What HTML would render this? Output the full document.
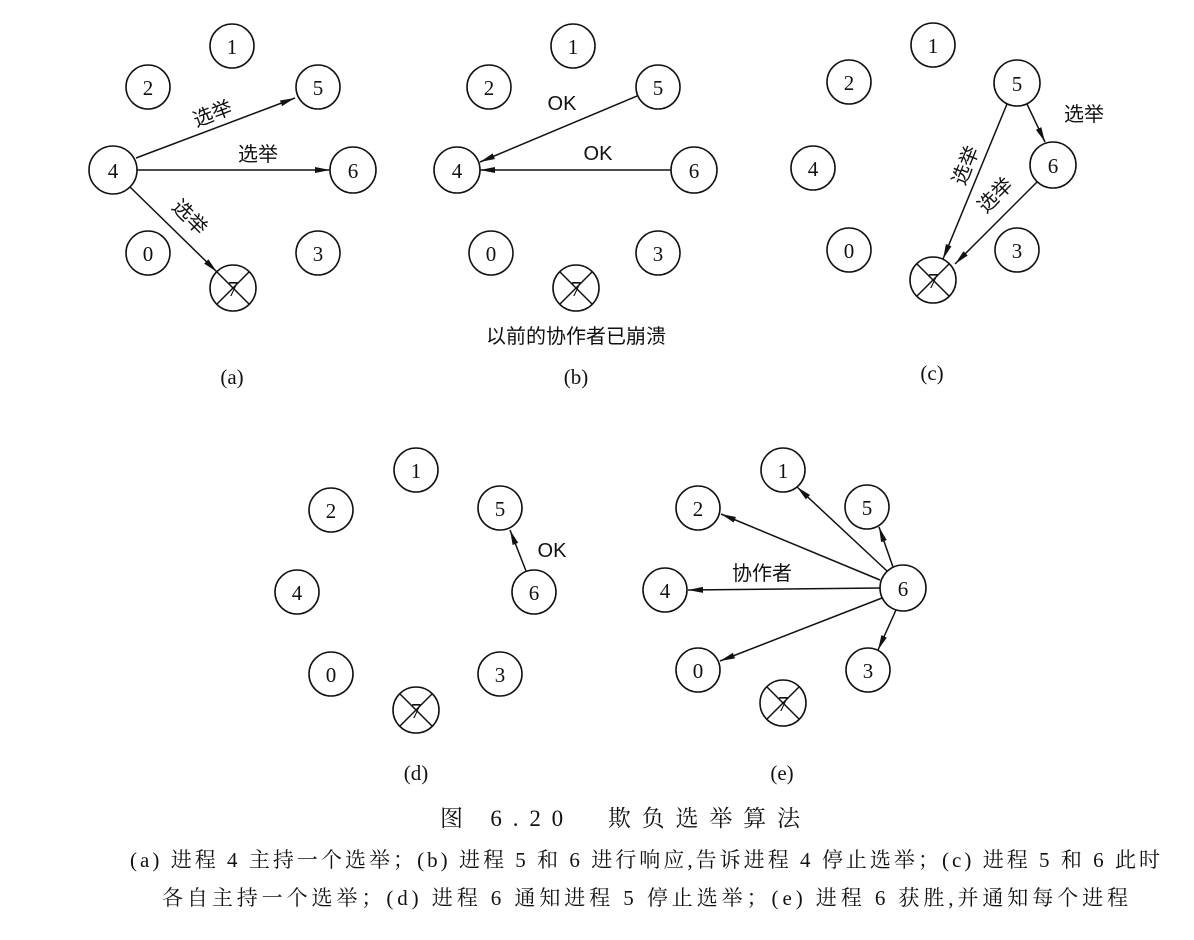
<!DOCTYPE html>
<html><head><meta charset="utf-8"><style>
body{margin:0;background:#fff;}
svg{display:block;font-family:"Liberation Serif","Noto Serif CJK SC",serif;}
.n circle{fill:none;stroke:#111;stroke-width:1.6}
.n text,.t{font-size:21px;fill:#111;text-anchor:middle;}
.cj{font-family:"Liberation Sans","Noto Sans CJK SC",sans-serif;font-size:20px;fill:#111;text-anchor:middle}
.cap{font-family:"Liberation Serif","Noto Serif CJK SC",serif;font-size:21px;fill:#111}
line{stroke:#111;stroke-width:1.5}
</style></head><body>
<svg width="1194" height="940" viewBox="0 0 1194 940" xmlns="http://www.w3.org/2000/svg">
<defs><marker id="ar" viewBox="0 0 15 7" refX="15" refY="3.5" markerWidth="15" markerHeight="7" markerUnits="userSpaceOnUse" orient="auto"><path d="M0,0.5 L15,3.5 L0,6.5 z" fill="#111"/></marker></defs>

<!-- panel a -->
<g class="n">
<circle cx="232" cy="46" r="22"/><text x="232" y="54">1</text>
<circle cx="148" cy="87" r="22"/><text x="148" y="95">2</text>
<circle cx="318" cy="87" r="22"/><text x="318" y="95">5</text>
<circle cx="113" cy="170" r="24"/><text x="113" y="178">4</text>
<circle cx="353" cy="170" r="23"/><text x="353" y="178">6</text>
<circle cx="148" cy="253" r="22"/><text x="148" y="261">0</text>
<circle cx="318" cy="253" r="22"/><text x="318" y="261">3</text>
<circle cx="233" cy="288" r="23"/><text x="233" y="296">7</text>
<line x1="217" y1="272" x2="249" y2="304"/><line x1="249" y1="272" x2="217" y2="304"/>
</g>
<line x1="136" y1="158" x2="295" y2="98" marker-end="url(#ar)"/>
<line x1="137" y1="170" x2="330" y2="170" marker-end="url(#ar)"/>
<line x1="130" y1="187" x2="217" y2="272" marker-end="url(#ar)"/>
<text class="cj" transform="translate(215,120) rotate(-21)">选举</text>
<text class="cj" x="258" y="161">选举</text>
<text class="cj" transform="translate(185,222) rotate(45)">选举</text>
<text class="t" x="232" y="384">(a)</text>

<!-- panel b -->
<g class="n">
<circle cx="573" cy="46" r="22"/><text x="573" y="54">1</text>
<circle cx="489" cy="87" r="22"/><text x="489" y="95">2</text>
<circle cx="658" cy="87" r="22"/><text x="658" y="95">5</text>
<circle cx="457" cy="170" r="23"/><text x="457" y="178">4</text>
<circle cx="694" cy="170" r="23"/><text x="694" y="178">6</text>
<circle cx="491" cy="253" r="22"/><text x="491" y="261">0</text>
<circle cx="658" cy="253" r="22"/><text x="658" y="261">3</text>
<circle cx="576" cy="288" r="23"/><text x="576" y="296">7</text>
<line x1="560" y1="272" x2="592" y2="304"/><line x1="592" y1="272" x2="560" y2="304"/>
</g>
<line x1="637" y1="96" x2="480" y2="162" marker-end="url(#ar)"/>
<line x1="671" y1="170" x2="480" y2="170" marker-end="url(#ar)"/>
<text class="cj" x="562" y="110">OK</text>
<text class="cj" x="598" y="160">OK</text>
<text class="cj" x="576" y="343">以前的协作者已崩溃</text>
<text class="t" x="576" y="384">(b)</text>

<!-- panel c -->
<g class="n">
<circle cx="933" cy="45" r="22"/><text x="933" y="53">1</text>
<circle cx="849" cy="82" r="22"/><text x="849" y="90">2</text>
<circle cx="1017" cy="83" r="23"/><text x="1017" y="91">5</text>
<circle cx="813" cy="168" r="22"/><text x="813" y="176">4</text>
<circle cx="1053" cy="165" r="23"/><text x="1053" y="173">6</text>
<circle cx="849" cy="250" r="22"/><text x="849" y="258">0</text>
<circle cx="1017" cy="250" r="22"/><text x="1017" y="258">3</text>
<circle cx="933" cy="280" r="23"/><text x="933" y="288">7</text>
<line x1="917" y1="264" x2="949" y2="296"/><line x1="949" y1="264" x2="917" y2="296"/>
</g>
<line x1="1007" y1="104" x2="943" y2="259" marker-end="url(#ar)"/>
<line x1="1027" y1="104" x2="1045" y2="142" marker-end="url(#ar)"/>
<line x1="1037" y1="182" x2="955" y2="264" marker-end="url(#ar)"/>
<text class="cj" transform="translate(972,168) rotate(-68)">选举</text>
<text class="cj" x="1084" y="121">选举</text>
<text class="cj" transform="translate(1000,200) rotate(-45)">选举</text>
<text class="t" x="932" y="380">(c)</text>

<!-- panel d -->
<g class="n">
<circle cx="416" cy="470" r="22"/><text x="416" y="478">1</text>
<circle cx="331" cy="510" r="22"/><text x="331" y="518">2</text>
<circle cx="500" cy="508" r="22"/><text x="500" y="516">5</text>
<circle cx="297" cy="592" r="22"/><text x="297" y="600">4</text>
<circle cx="534" cy="592" r="22"/><text x="534" y="600">6</text>
<circle cx="331" cy="674" r="22"/><text x="331" y="682">0</text>
<circle cx="500" cy="674" r="22"/><text x="500" y="682">3</text>
<circle cx="416" cy="710" r="23"/><text x="416" y="718">7</text>
<line x1="400" y1="694" x2="432" y2="726"/><line x1="432" y1="694" x2="400" y2="726"/>
</g>
<line x1="526" y1="571" x2="510" y2="530" marker-end="url(#ar)"/>
<text class="cj" x="552" y="557">OK</text>
<text class="t" x="416" y="780">(d)</text>

<!-- panel e -->
<g class="n">
<circle cx="783" cy="470" r="22"/><text x="783" y="478">1</text>
<circle cx="698" cy="508" r="22"/><text x="698" y="516">2</text>
<circle cx="867" cy="507" r="22"/><text x="867" y="515">5</text>
<circle cx="665" cy="590" r="22"/><text x="665" y="598">4</text>
<circle cx="903" cy="588" r="23"/><text x="903" y="596">6</text>
<circle cx="698" cy="670" r="22"/><text x="698" y="678">0</text>
<circle cx="868" cy="670" r="22"/><text x="868" y="678">3</text>
<circle cx="783" cy="703" r="23"/><text x="783" y="711">7</text>
<line x1="767" y1="687" x2="799" y2="719"/><line x1="799" y1="687" x2="767" y2="719"/>
</g>
<line x1="887" y1="571" x2="797" y2="487" marker-end="url(#ar)"/>
<line x1="893" y1="567" x2="879" y2="527" marker-end="url(#ar)"/>
<line x1="880" y1="580" x2="721" y2="514" marker-end="url(#ar)"/>
<line x1="880" y1="588" x2="688" y2="590" marker-end="url(#ar)"/>
<line x1="882" y1="598" x2="720" y2="661" marker-end="url(#ar)"/>
<line x1="896" y1="610" x2="878" y2="650" marker-end="url(#ar)"/>
<text class="cj" x="762" y="580">协作者</text>
<text class="t" x="782" y="780">(e)</text>

<text class="cap" x="440" y="826" style="font-size:23px" textLength="360" lengthAdjust="spacing">图 6.20　欺负选举算法</text>
<text class="cap" x="130" y="867" textLength="1030" lengthAdjust="spacing">(a) 进程 4 主持一个选举；(b) 进程 5 和 6 进行响应,告诉进程 4 停止选举；(c) 进程 5 和 6 此时</text>
<text class="cap" x="162" y="905" textLength="966" lengthAdjust="spacing">各自主持一个选举；(d) 进程 6 通知进程 5 停止选举；(e) 进程 6 获胜,并通知每个进程</text>
</svg>
</body></html>
